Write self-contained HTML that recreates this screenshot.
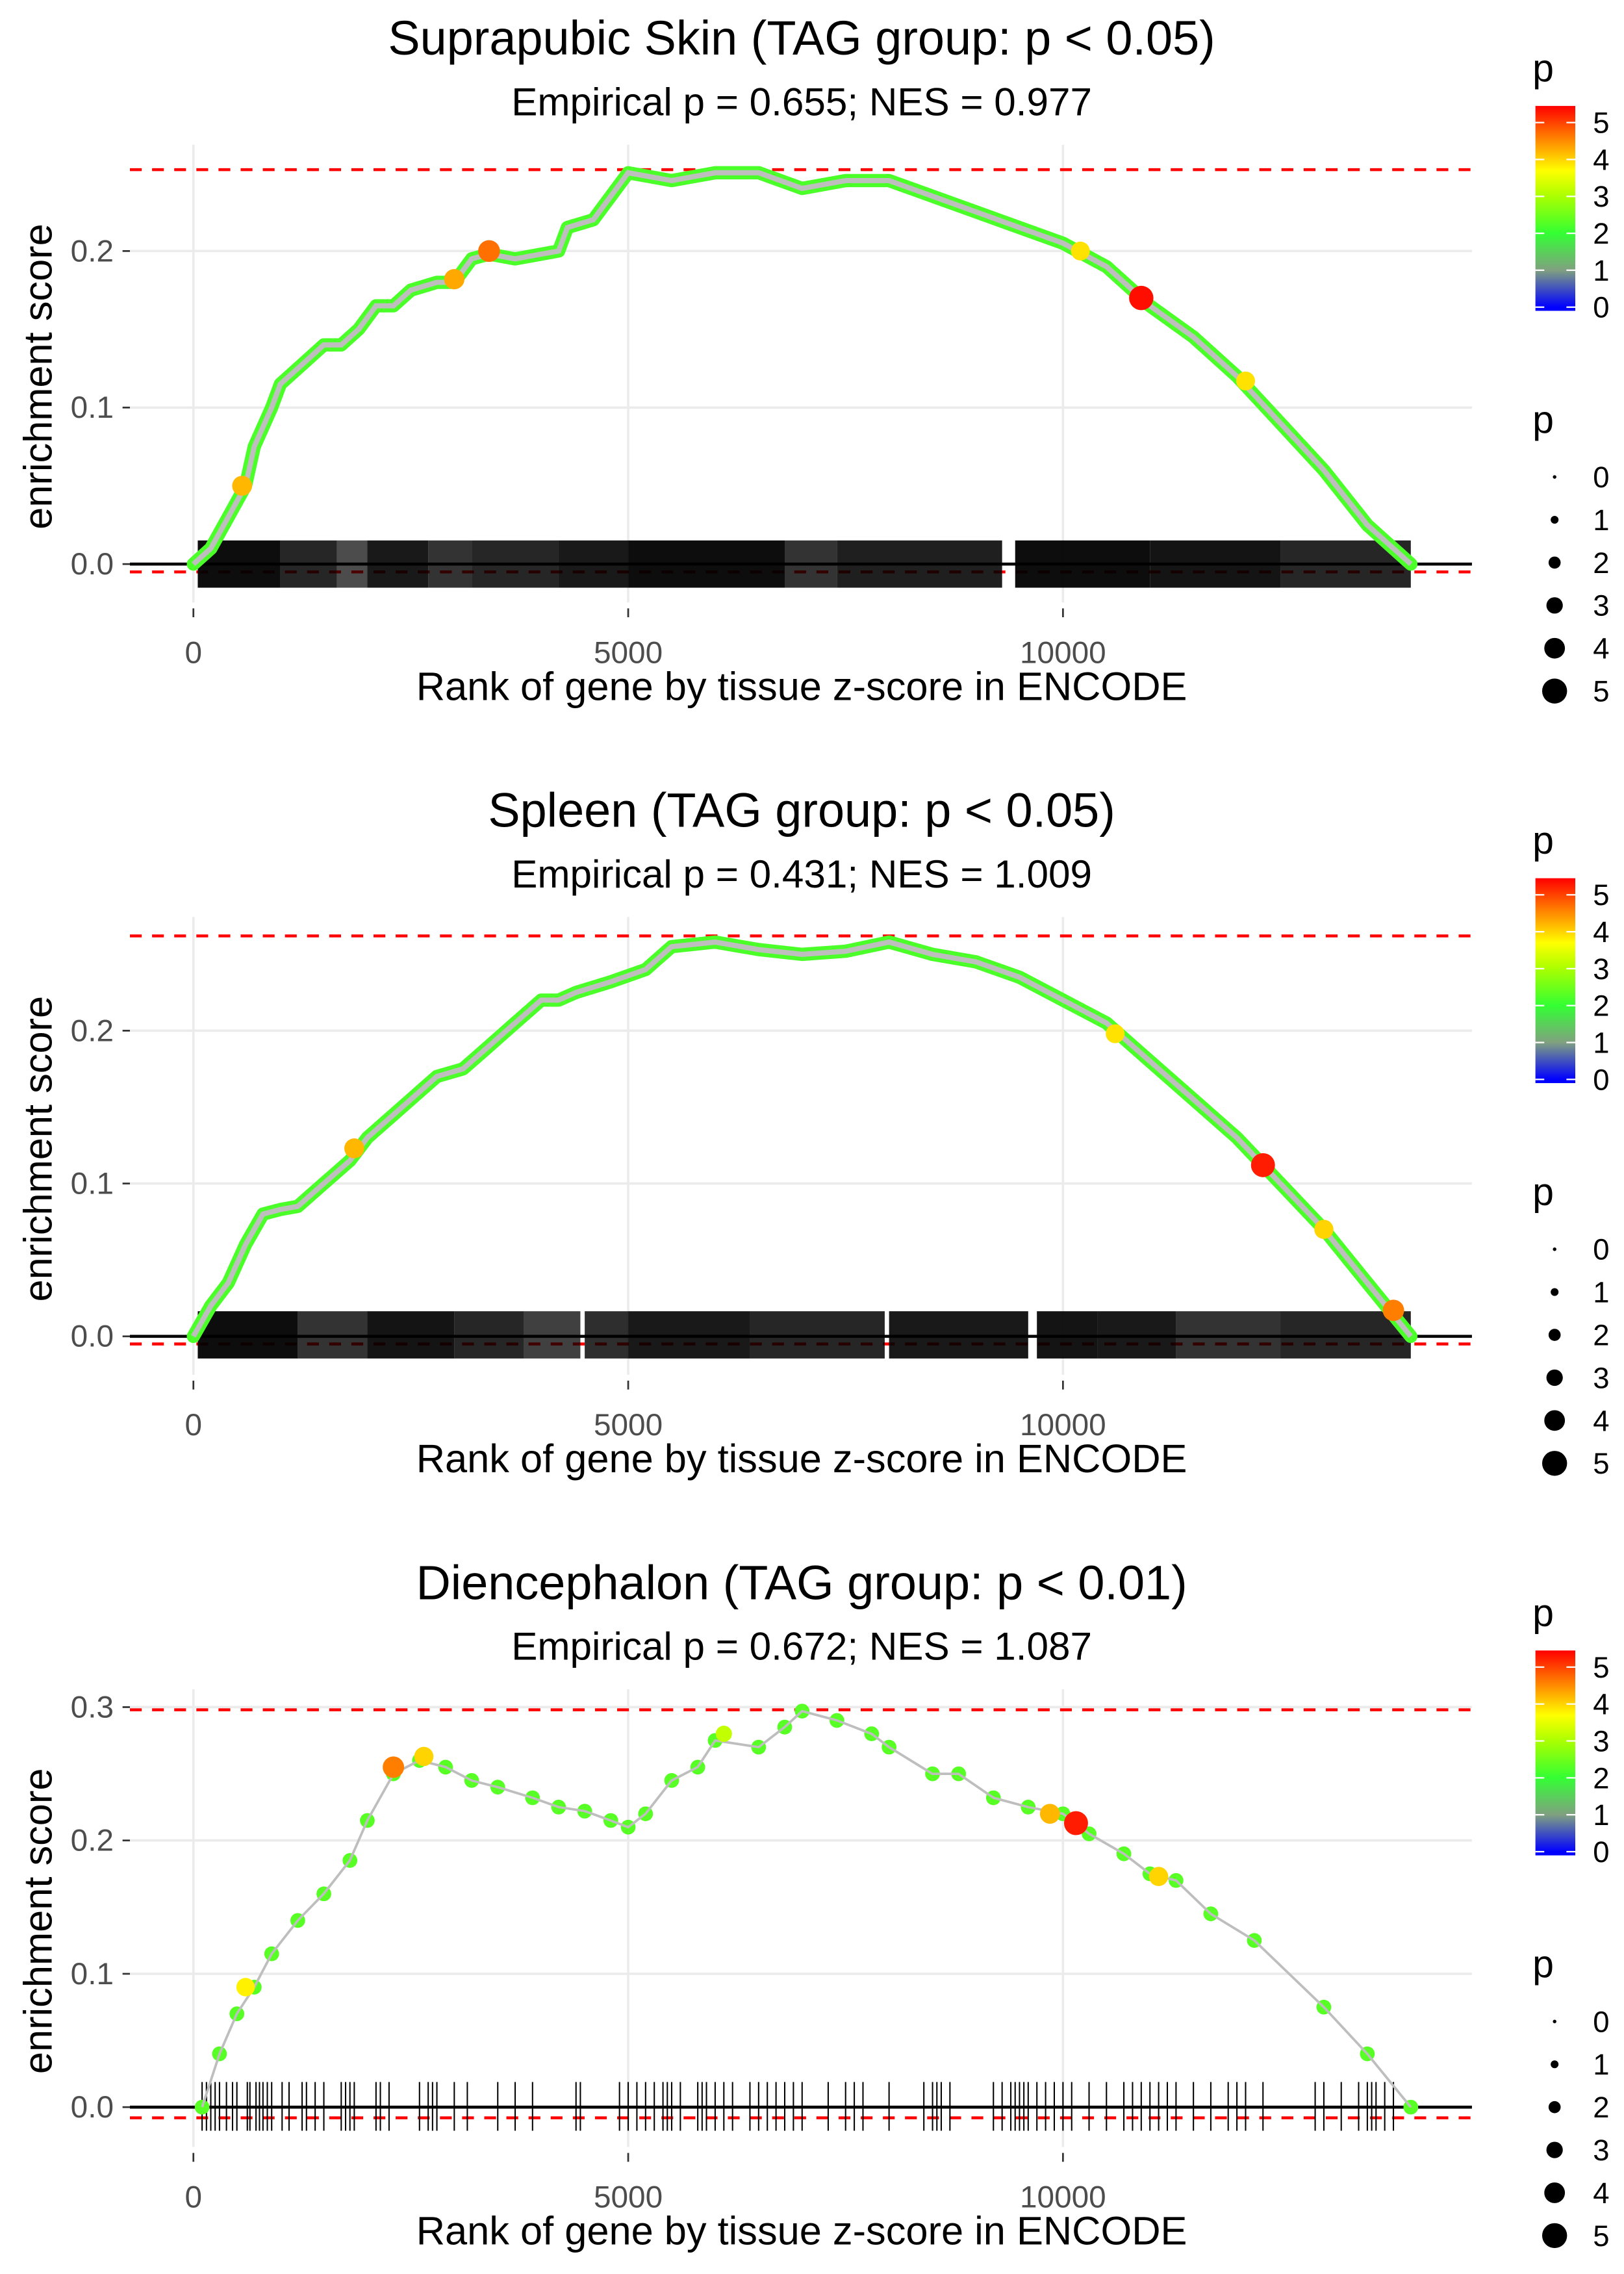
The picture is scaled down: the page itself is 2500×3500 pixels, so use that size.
<!DOCTYPE html>
<html><head><meta charset="utf-8">
<style>
html,body{margin:0;padding:0;background:#fff;}
svg{display:block;font-family:"Liberation Sans",sans-serif;}
</style></head>
<body>
<svg id="chart" width="2500" height="3500" viewBox="0 0 1100 1540" preserveAspectRatio="none" xmlns="http://www.w3.org/2000/svg"></svg>
<script>
// ---- data ----
const panelTitles = ["Suprapubic Skin (TAG group: p < 0.05)", "Spleen (TAG group: p < 0.05)", "Diencephalon (TAG group: p < 0.01)"];
const panelSubtitles = ["Empirical p = 0.655; NES = 0.977", "Empirical p = 0.431; NES = 1.009", "Empirical p = 0.672; NES = 1.087"];
const maxES = [0.252, 0.262, 0.298];
const minES = [-0.005, -0.005, -0.008];
const yTicks1 = [0.0, 0.1, 0.2];
const yTicks3 = [0.0, 0.1, 0.2, 0.3];
const xTicks = [0, 5000, 10000];
const legendTicks = [0, 1, 2, 3, 4, 5];

const rank1 = [0,200,400,600,700,900,1000,1300,1500,1700,1900,2100,2300,2500,2800,3000,3200,3400,3700,4000,4200,4300,4600,4800,5000,5500,6000,6500,7000,7500,8000,8500,9000,9500,10000,10500,11000,11500,12000,12500,13000,13500,14000];
const es1 = [0,0.01,0.03,0.05,0.075,0.1,0.115,0.13,0.14,0.14,0.15,0.165,0.165,0.175,0.18,0.18,0.195,0.198,0.195,0.198,0.2,0.215,0.22,0.235,0.25,0.245,0.25,0.25,0.24,0.245,0.245,0.235,0.225,0.215,0.205,0.19,0.165,0.145,0.12,0.09,0.06,0.025,0];
const rank2 = [0,200,400,600,800,1000,1200,1500,1800,2000,2300,2600,2800,3100,3400,3700,4000,4200,4400,4800,5200,5500,6000,6500,7000,7500,8000,8500,9000,9500,10000,10500,11000,11500,12000,12500,13000,13500,14000];
const es2 = [0,0.02,0.035,0.06,0.08,0.083,0.085,0.1,0.115,0.13,0.145,0.16,0.17,0.175,0.19,0.205,0.22,0.22,0.225,0.232,0.24,0.255,0.258,0.253,0.25,0.252,0.258,0.25,0.245,0.235,0.22,0.205,0.18,0.155,0.13,0.1,0.07,0.035,0];
const rank3 = [100,300,500,700,900,1200,1500,1800,2000,2300,2600,2900,3200,3500,3900,4200,4500,4800,5000,5200,5500,5800,6000,6500,6800,7000,7400,7800,8000,8500,8800,9200,9600,10000,10300,10700,11000,11300,11700,12200,13000,13500,14000];
const es3 = [0,0.04,0.07,0.09,0.115,0.14,0.16,0.185,0.215,0.25,0.26,0.255,0.245,0.24,0.232,0.225,0.222,0.215,0.21,0.22,0.245,0.255,0.275,0.27,0.285,0.297,0.29,0.28,0.27,0.25,0.25,0.232,0.225,0.22,0.205,0.19,0.175,0.17,0.145,0.125,0.075,0.04,0];
const dotP1 = 2.2, dotP2 = 2.2, dotP3 = 2.3;

const hiRank1 = [560,3000,3400,10200,10900,12100];
const hiEs1 = [0.05,0.182,0.2,0.2,0.17,0.117];
const hiP1 = [4.2,4.3,4.7,3.9,5.4,3.9];
const hiRank2 = [1850,10600,12300,13000,13800];
const hiEs2 = [0.123,0.198,0.112,0.07,0.017];
const hiP2 = [4.2,3.9,5.3,4.0,4.6];
const hiRank3 = [600,2300,2650,6100,9850,10150,11100];
const hiEs3 = [0.09,0.255,0.263,0.28,0.22,0.213,0.173];
const hiP3 = [3.8,4.6,4.0,3.2,4.2,5.3,4.0];

// dense hit bands: start rank, end rank, density
const bandStart1 = [50,1000,1650,2000,2700,3200,4200,5000,6800,7400,9450,11000,12500];
const bandEnd1 = [1000,1650,2000,2700,3200,4200,5000,6800,7400,9300,11000,12500,14000];
const bandDens1 = [0.95,0.85,0.7,0.9,0.8,0.85,0.9,0.95,0.8,0.88,0.95,0.92,0.85];
const bandStart2 = [50,1200,2000,3000,3800,4500,5000,6400,8000,9700,10400,11300,12500];
const bandEnd2 = [1200,2000,3000,3800,4450,5000,6400,7950,9600,10400,11300,12500,14000];
const bandDens2 = [0.95,0.8,0.92,0.85,0.75,0.82,0.9,0.85,0.9,0.92,0.9,0.8,0.85];
const hits3 = [100,150,200,250,300,380,450,500,620,650,720,760,800,850,900,1020,1100,1250,1300,1400,1500,1700,1750,1800,1850,2100,2150,2250,2600,2700,2750,2800,3000,3150,3500,3700,3900,4400,4450,4900,5000,5100,5200,5300,5400,5450,5500,5600,5800,5850,5900,6000,6100,6200,6400,6500,6600,6700,6800,6900,7000,7300,7500,7600,7700,8000,8400,8500,8550,8600,8700,9200,9300,9400,9450,9500,9550,9600,9700,9800,9900,10000,10100,10300,10500,10700,10800,10900,11000,11100,11200,11300,11500,11700,11900,12000,12100,12300,12900,13000,13200,13400,13500,13550,13600,13700,13800];

// ---- helpers ----
const svg = document.getElementById('chart');
const NS = 'http://www.w3.org/2000/svg';
function mk(tag, attrs, parent){ const e=document.createElementNS(NS,tag); for(const k in attrs) e.setAttribute(k,attrs[k]); (parent||svg).appendChild(e); return e; }
const stops = [[0,[0,0,255]],[1,[128,160,128]],[2,[51,255,51]],[3,[170,255,0]],[3.7,[255,255,0]],[4.5,[255,140,0]],[5.5,[255,0,0]]];
function pColor(p){
  if(p<=stops[0][0]) return 'rgb(0,0,255)';
  for(let i=1;i<stops.length;i++){ if(p<=stops[i][0]){ const a=stops[i-1],b=stops[i]; const t=(p-a[0])/(b[0]-a[0]); const c=a[1].map((v,j)=>Math.round(v+(b[1][j]-v)*t)); return `rgb(${c[0]},${c[1]},${c[2]})`; } }
  return 'rgb(255,0,0)';
}
function pRad(p){ return 1.5 + p*1.25; }

const panels = [
  {off:0, y0:382, per:1060, yt:yTicks1, rank:rank1, es:es1, dp:dotP1, hr:hiRank1, he:hiEs1, hp:hiP1, bs:bandStart1, be:bandEnd1, bd:bandDens1, hits:null, tickTop:366, tickBot:398},
  {off:523, y0:905, per:1035, yt:yTicks1, rank:rank2, es:es2, dp:dotP2, hr:hiRank2, he:hiEs2, hp:hiP2, bs:bandStart2, be:bandEnd2, bd:bandDens2, hits:null, tickTop:888, tickBot:920},
  {off:1046, y0:1427, per:903, yt:yTicks3, rank:rank3, es:es3, dp:dotP3, hr:hiRank3, he:hiEs3, hp:hiP3, bs:null, be:null, bd:null, hits:hits3, tickTop:1410, tickBot:1443}
];

panels.forEach((P, idx) => {
  const g = mk('g', {});
  
  
  const xs = r => 131 + r * 294.5 / 5000;
  const ys = v => P.y0 - v * P.per;
  const o = P.off;
  const top = 98 + o, bot = 408 + o;

  let t = mk('text', {x:543, y:37+o, 'text-anchor':'middle', 'font-size':32.5, fill:'#000'}, g);
  t.textContent = panelTitles[idx];
  
  
  t = mk('text', {x:543, y:78+o, 'text-anchor':'middle', 'font-size':26.5, fill:'#000'}, g);
  t.textContent = panelSubtitles[idx];
  
  

  // grid
  xTicks.forEach(v => {
    const l = mk('line', {x1:xs(v), x2:xs(v), y1:top, y2:bot, stroke:'#ebebeb', 'stroke-width':1.6}, g);
    
    
    mk('line', {x1:xs(v), x2:xs(v), y1:bot+4, y2:bot+10, stroke:'#333', 'stroke-width':1.2}, g);
    const tl = mk('text', {x:xs(v), y:bot+41, 'text-anchor':'middle', 'font-size':21, fill:'#4d4d4d'}, g);
    tl.textContent = String(v);
    
    
  });
  P.yt.forEach(v => {
    const l = mk('line', {x1:88, x2:997, y1:ys(v), y2:ys(v), stroke:'#ebebeb', 'stroke-width':1.6}, g);
    
    
    mk('line', {x1:83, x2:88, y1:ys(v), y2:ys(v), stroke:'#333', 'stroke-width':1.2}, g);
    const tl = mk('text', {x:77, y:ys(v)+7, 'text-anchor':'end', 'font-size':21, fill:'#4d4d4d'}, g);
    tl.textContent = v.toFixed(1);
    
    
  });

  // red dashed lines
  [maxES[idx], minES[idx]].forEach(v => {
    const l = mk('line', {x1:88, x2:997, y1:ys(v), y2:ys(v), stroke:'#ff0000', 'stroke-width':2, 'stroke-dasharray':'8,7'}, g);
    
    
  });

  // hits
  if (P.bs) {
    P.bs.forEach((s, i) => {
      const r = mk('rect', {x:xs(s), y:P.tickTop, width:xs(P.be[i])-xs(s), height:P.tickBot-P.tickTop, fill:'#000', opacity:P.bd[i]}, g);
      
      
    });
  } else {
    P.hits.forEach(h => {
      const l = mk('line', {x1:xs(h), x2:xs(h), y1:P.tickTop, y2:P.tickBot, stroke:'#000', 'stroke-width':0.9}, g);
      
      
    });
  }
  // zero line
  const zl = mk('line', {x1:88, x2:997, y1:ys(0), y2:ys(0), stroke:'#000', 'stroke-width':2}, g);
  
  

  // curve
  const pts = P.rank.map((r, i) => xs(r).toFixed(1) + ',' + ys(P.es[i]).toFixed(1)).join(' ');
  if (idx < 2) {
    const under = mk('polyline', {points:pts, fill:'none', stroke:pColor(P.dp), 'stroke-width':9, 'stroke-linejoin':'round', 'stroke-linecap':'round'}, g);
    
    
  }
  const line = mk('polyline', {points:pts, fill:'none', stroke:'#bebebe', 'stroke-width':idx<2?3.5:1.6}, g);
  
  
  if (idx === 2) {
    P.rank.forEach((r, i) => {
      const c = mk('circle', {cx:xs(r), cy:ys(P.es[i]), r:5, fill:pColor(P.dp)}, g);
      
      
    });
    mk('polyline', {points:pts, fill:'none', stroke:'#bebebe', 'stroke-width':1.6}, g);
  }
  P.hr.forEach((r, i) => {
    const c = mk('circle', {cx:xs(r), cy:ys(P.he[i]), r:pRad(P.hp[i]), fill:pColor(P.hp[i])}, g);
    
    
  });

  // axis titles
  t = mk('text', {x:543, y:474+o, 'text-anchor':'middle', 'font-size':27, fill:'#000'}, g);
  t.textContent = 'Rank of gene by tissue z-score in ENCODE';
  
  
  t = mk('text', {x:0, y:0, 'text-anchor':'middle', 'font-size':27, fill:'#000', transform:`translate(35,${255+o}) rotate(-90)`}, g);
  t.textContent = 'enrichment score';
  
  

  // color legend
  const lg = mk('g', {}, g);
  
  
  t = mk('text', {x:1038, y:55+o, 'font-size':26, fill:'#000'}, lg);
  t.textContent = 'p';
  
  
  const gradId = 'grad' + idx;
  const defs = mk('defs', {}, lg);
  const lgr = mk('linearGradient', {id:gradId, x1:0, y1:1, x2:0, y2:0}, defs);
  const lo = -0.1, hi = 5.45;
  stops.forEach(s => mk('stop', {offset:Math.min(1,(s[0]-lo)/(hi-lo)), 'stop-color':pColor(s[0])}, lgr));
  const by = v => 208 + o - v * 25;
  const bar = mk('rect', {x:1040, y:by(hi), width:27, height:by(lo)-by(hi), fill:`url(#${gradId})`}, lg);
  
  
  legendTicks.forEach(v => {
    mk('line', {x1:1040, x2:1046, y1:by(v), y2:by(v), stroke:'#fff', 'stroke-width':1}, lg);
    mk('line', {x1:1061, x2:1067, y1:by(v), y2:by(v), stroke:'#fff', 'stroke-width':1}, lg);
    const tl = mk('text', {x:1079, y:by(v)+7, 'font-size':20, fill:'#000'}, lg);
    tl.textContent = String(v);
    
    
  });

  // size legend
  const sg = mk('g', {}, g);
  
  
  t = mk('text', {x:1038, y:293+o, 'font-size':26, fill:'#000'}, sg);
  t.textContent = 'p';
  
  
  legendTicks.forEach((v, i) => {
    const cy = 323 + o + i * 29;
    const c = mk('circle', {cx:1053, cy:cy, r:1.2 + v*1.45, fill:'#000'}, sg);
    
    
    const tl = mk('text', {x:1079, y:cy+7, 'font-size':20, fill:'#000'}, sg);
    tl.textContent = String(v);
    
    
  });
});
</script>
</body></html>
